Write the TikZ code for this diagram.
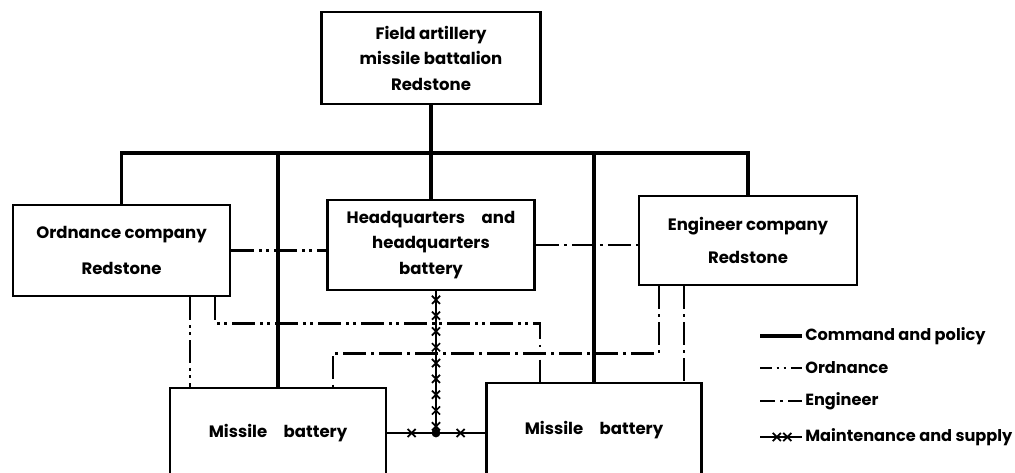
\documentclass[tikz,border=0pt]{standalone}
\usepackage{fontspec}
\setmainfont{Poppins}
\usetikzlibrary{positioning, calc, decorations.markings}

\begin{document}
\begin{tikzpicture}[
        x=0.02cm, y=-0.02cm, font=\fontsize{9.4pt}{14.5pt}\selectfont\bfseries,
        box/.style={draw, line width=1.5pt, align=center, inner sep=0pt},
        cmd/.style={line width=2.2pt},
        ordn/.style={line width=1.5pt, dash pattern=on 13pt off 3pt on 1.5pt off 2.5pt on 1.5pt off 3pt},
        engr/.style={line width=1.5pt, dash pattern=on 13pt off 3pt on 1.5pt off 3pt},
        ordnkey/.style={line width=1.5pt, dash pattern=on 7pt off 2.5pt on 1.5pt off 2.5pt on 1.5pt off 2.5pt},
        engrkey/.style={line width=1.5pt, dash pattern=on 8.5pt off 3pt on 1.5pt off 3pt},
        xcross/.pic={\draw[line width=1pt] (-2.3pt,-2.3pt) -- (2.3pt,2.3pt) (-2.3pt,2.3pt) -- (2.3pt,-2.3pt);},
        mnt/.style={line width=1.5pt, decoration={markings,
            mark=between positions 0.06 and 0.97 step 9pt with {\pic {xcross};}}, postaction=decorate},
        mntx/.style={line width=1.5pt, decoration={markings,
            mark=at position 0.5 with {\pic {xcross};}}, postaction=decorate},
        lbl/.style={anchor=west, inner sep=0pt, font=\fontsize{9.2pt}{10pt}\selectfont\bfseries}
    ]
        \clip (0,0) rectangle (1015,473);

        % boxes
        \node[box, minimum width=4.38cm, minimum height=1.84cm] (bn) at (431,58)
            {Field artillery\\missile battalion\\Redstone};
        \node[box, minimum width=4.34cm, minimum height=1.82cm] (ord) at (121.5,250.5)
            {Ordnance company\\[6pt]Redstone};
        \node[box, minimum width=4.14cm, minimum height=1.80cm] (hq) at (431,245)
            {Headquarters\quad and\\headquarters\\battery};
        \node[box, minimum width=4.36cm, minimum height=1.78cm] (eng) at (748,240.5)
            {Engineer company\\[4pt]Redstone};
        \node[box, minimum width=4.32cm, minimum height=1.80cm] (mbl) at (278,433)
            {Missile\quad battery};
        \node[box, minimum width=4.30cm, minimum height=1.88cm] (mbr) at (594,430)
            {Missile\quad battery};

        % command and policy
        \draw[cmd] (bn.south) -- (hq.north);
        \draw[cmd] (ord.north) |- (eng.north |- 0,153) -- (eng.north);
        \draw[cmd] (mbl.north |- 0,153) -- (mbl.north);
        \draw[cmd] (mbr.north |- 0,153) -- (mbr.north);

        % ordnance
        \draw[ordn] (ord.east) -- (ord.east -| hq.west);
        \draw[ordn] ([xshift=1.37cm]ord.south) -- ([xshift=1.37cm]ord.south |- mbl.north);
        \draw[ordn] ([xshift=1.87cm]ord.south) -- ++(0,26) -| ([xshift=-1.08cm]mbr.north);

        % engineer
        \draw[engr] (hq.east) -- (hq.east -| eng.west);
        \draw[engr] ([xshift=-1.78cm]eng.south) -- ++(0,67) -| ([xshift=1.1cm]mbl.north);
        \draw[engr] ([xshift=-1.28cm]eng.south) -- ([xshift=-1.28cm]eng.south |- mbr.north);

        % maintenance and supply
        \draw[mnt] ([xshift=0.1cm]hq.south) -- ([xshift=0.1cm]hq.south |- mbl.east) coordinate (jn);
        \draw[mntx] (mbl.east) -- (jn);
        \draw[mntx] (jn) -- (jn -| mbr.west);
        \fill (jn) circle (2.5pt);

        % legend
        \node[lbl] (lcmd) at (805,336) {Command and policy};
        \node[lbl] (lord) at (805,368) {Ordnance};
        \node[lbl] (leng) at (805,401) {Engineer};
        \node[lbl] (lmnt) at (805,437) {Maintenance and supply};
        \draw[cmd] ([xshift=-0.9cm]lcmd.west) -- ([xshift=-0.06cm]lcmd.west);
        \draw[ordnkey] ([xshift=-0.9cm]lord.west) -- ([xshift=-0.06cm]lord.west);
        \draw[engrkey] ([xshift=-0.9cm]leng.west) -- ([xshift=-0.06cm]leng.west);
        \draw[line width=1.5pt] ([xshift=-0.9cm]lmnt.west) -- ([xshift=-0.06cm]lmnt.west)
            pic[pos=0.4] {xcross} pic[pos=0.65] {xcross};
    \end{tikzpicture}
\end{document}
